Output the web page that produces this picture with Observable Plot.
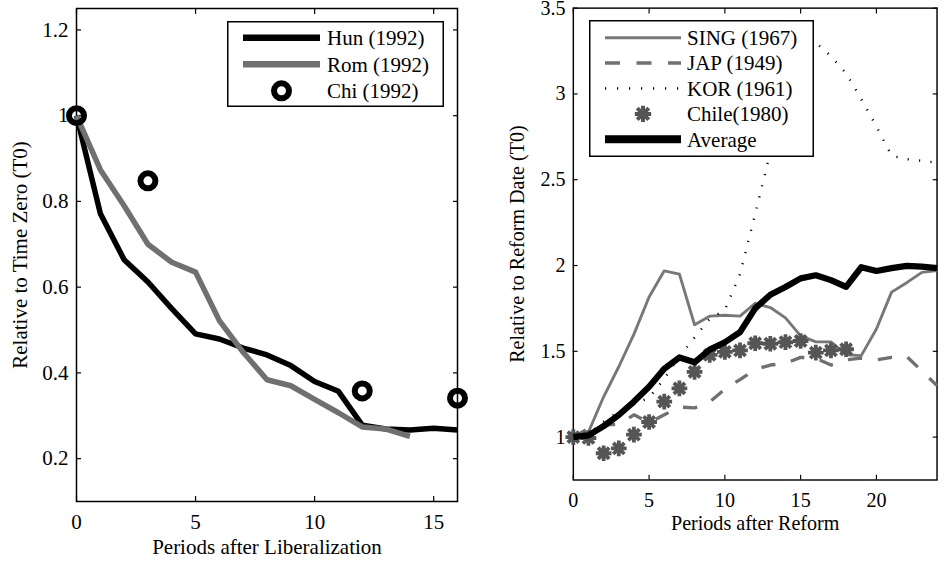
<!DOCTYPE html>
<html>
<head>
<meta charset="utf-8">
<script src="https://cdn.jsdelivr.net/npm/d3@7"></script>
<script src="https://cdn.jsdelivr.net/npm/@observablehq/plot@0.6"></script>
<style>
  html, body { margin: 0; padding: 0; background: #fff; }
  #wrap { position: relative; width: 949px; height: 561px; overflow: hidden; background: #fff; }
  .panel { position: absolute; top: 0; }
</style>
</head>
<body>
<div id="wrap">
  <div id="lib" class="panel" style="left:0px"></div>
  <div id="reform" class="panel" style="left:480px"></div>
</div>
<script>
const FONT = "'Liberation Serif', 'Times New Roman', serif";

// ---- Left panel: output relative to time zero after liberalization ----
const libPeriods = [0, 1, 2, 3, 4, 5, 6, 7, 8, 9, 10, 11, 12, 13, 14, 15, 16];
const hun = [1.0, 0.772, 0.664, 0.612, 0.55, 0.491, 0.479, 0.458, 0.442, 0.417, 0.38, 0.357, 0.278, 0.269, 0.267, 0.271, 0.267];
const romPeriods = [0, 1, 2, 3, 4, 5, 6, 7, 8, 9, 10, 11, 12, 13, 14];
const rom = [1.0, 0.874, 0.79, 0.70, 0.658, 0.635, 0.522, 0.448, 0.384, 0.370, 0.338, 0.307, 0.274, 0.269, 0.252];
const chiPeriods = [0, 3, 12, 16];
const chi = [1.0, 0.848, 0.358, 0.341];
const libXTicks = [0, 5, 10, 15];
const libYTicks = [0.2, 0.4, 0.6, 0.8, 1, 1.2];
const libNames = ["Hun (1992)", "Rom (1992)", "Chi (1992)"];

// ---- Right panel: relative to reform date ----
const reformPeriods = [0, 1, 2, 3, 4, 5, 6, 7, 8, 9, 10, 11, 12, 13, 14, 15, 16, 17, 18, 19, 20, 21, 22, 23, 24];
const sing = [1.0, 1.03, 1.235, 1.41, 1.60, 1.817, 1.969, 1.95, 1.655, 1.705, 1.71, 1.705, 1.78, 1.755, 1.695, 1.59, 1.555, 1.555, 1.48, 1.475, 1.63, 1.845, 1.90, 1.96, 1.97];
const jap = [1.0, 1.05, 1.07, 1.075, 1.13, 1.085, 1.13, 1.175, 1.17, 1.205, 1.28, 1.335, 1.395, 1.42, 1.43, 1.465, 1.46, 1.42, 1.45, 1.46, 1.45, 1.465, 1.47, 1.385, 1.30];
const kor = [1.0, 1.02, 1.09, 1.15, 1.19, 1.23, 1.34, 1.47, 1.58, 1.69, 1.74, 1.95, 2.30, 2.66, 2.95, 3.22, 3.30, 3.22, 3.12, 2.97, 2.81, 2.64, 2.62, 2.61, 2.60];
const average = [1.0, 1.01, 1.064, 1.129, 1.207, 1.293, 1.399, 1.464, 1.436, 1.510, 1.553, 1.612, 1.75, 1.83, 1.875, 1.925, 1.943, 1.915, 1.876, 1.99, 1.968, 1.985, 1.998, 1.993, 1.985];
const chilePeriods = [0, 1, 2, 3, 4, 5, 6, 7, 8, 9, 10, 11, 12, 13, 14, 15, 16, 17, 18];
const chile = [1.0, 0.995, 0.906, 0.934, 1.014, 1.088, 1.207, 1.284, 1.380, 1.479, 1.497, 1.505, 1.547, 1.544, 1.553, 1.560, 1.492, 1.505, 1.512];
const reformXTicks = [0, 5, 10, 15, 20];
const reformYTicks = [1, 1.5, 2, 2.5, 3, 3.5];
const reformNames = ["SING (1967)", "JAP (1949)", "KOR (1961)", "Chile(1980)", "Average"];

const rows = (xs, ys) => xs.map((x, i) => ({x, y: ys[i]}));
const fmt = d => String(d);
const blank = () => "";

// eight-armed asterisk marker
const asterisk8 = {
  draw(context, size) {
    const r = Math.sqrt(size / Math.PI);
    for (let k = 0; k < 4; ++k) {
      const a = k * Math.PI / 4;
      context.moveTo(r * Math.cos(a), r * Math.sin(a));
      context.lineTo(-r * Math.cos(a), -r * Math.sin(a));
    }
  }
};
const STAR_R = 8.2, STAR_W = 4;

// boxed axes with inward ticks on all four sides
function boxAxes(xTicks, yTicks) {
  return [
    Plot.frame({stroke: "#000", strokeWidth: 1.5}),
    Plot.axisX({ticks: xTicks, tickSize: -5, tickPadding: 18, tickFormat: fmt, label: null, strokeWidth: 1.2}),
    Plot.axisX({anchor: "top", ticks: xTicks, tickSize: -5, tickFormat: blank, label: null, strokeWidth: 1.2}),
    Plot.axisY({ticks: yTicks, tickSize: -5, tickPadding: 13, tickFormat: fmt, label: null, strokeWidth: 1.2}),
    Plot.axisY({anchor: "right", ticks: yTicks, tickSize: -5, tickFormat: blank, label: null, strokeWidth: 1.2})
  ];
}

// axis titles below and to the left of the frame
function titles(xTitle, yTitle, yDx) {
  return [
    Plot.text([xTitle], {text: d => d, frameAnchor: "bottom", lineAnchor: "middle", textAnchor: "middle", dy: 46, fontSize: 21}),
    Plot.text([yTitle], {text: d => d, frameAnchor: "left", lineAnchor: "middle", textAnchor: "middle", dx: yDx, rotate: -90, fontSize: 21})
  ];
}

const style = {fontFamily: FONT, fontSize: "21px", background: "transparent", color: "#000", overflow: "visible"};

const libPlot = Plot.plot({
  width: 480, height: 561,
  marginLeft: 76, marginRight: 23, marginTop: 8, marginBottom: 60,
  style,
  x: {domain: [0, 16]},
  y: {domain: [0.1, 1.25]},
  marks: [
    ...boxAxes(libXTicks, libYTicks),
    ...titles("Periods after Liberalization", "Relative to Time Zero (T0)", -56.5),
    Plot.line(rows(libPeriods, hun), {x: "x", y: "y", stroke: "#000", strokeWidth: 5.5, strokeLinecap: "butt"}),
    Plot.line(rows(romPeriods, rom), {x: "x", y: "y", stroke: "#707070", strokeWidth: 5.5, strokeLinecap: "butt"}),
    Plot.dot(rows(chiPeriods, chi), {x: "x", y: "y", r: 7.5, stroke: "#000", strokeWidth: 6, fill: "none"})
  ]
});
document.getElementById("lib").append(libPlot);

const reformPlot = Plot.plot({
  width: 490, height: 561,
  marginLeft: 97, marginRight: 13, marginTop: 8, marginBottom: 60,
  style,
  x: {domain: [0, 24]},
  y: {domain: [0.75, 3.5]},
  marks: [
    ...boxAxes(reformXTicks, reformYTicks),
    ...titles("Periods after Reform", "Relative to Reform Date (T0)", -58),
    Plot.line(rows(reformPeriods, sing), {x: "x", y: "y", stroke: "#777", strokeWidth: 3, strokeLinecap: "butt"}),
    Plot.line(rows(reformPeriods, jap), {x: "x", y: "y", stroke: "#707070", strokeWidth: 3.5, strokeDasharray: "15,16.5", strokeLinecap: "butt"}),
    Plot.line(rows(reformPeriods, kor), {x: "x", y: "y", stroke: "#000", strokeWidth: 2.5, strokeDasharray: "1.2,10.8", strokeLinecap: "butt"}),
    Plot.dot(rows(chilePeriods, chile), {x: "x", y: "y", r: STAR_R, symbol: asterisk8, stroke: "#555", strokeWidth: STAR_W, fill: "none"}),
    Plot.line(rows(reformPeriods, average), {x: "x", y: "y", stroke: "#000", strokeWidth: 6.5, strokeLinecap: "butt"})
  ]
});
document.getElementById("reform").append(reformPlot);

// ---- legends ----
function legend(names, styles, box) {
  const svg = d3.select("#wrap").append("svg")
    .attr("width", box.width).attr("height", box.height)
    .style("position", "absolute").style("left", box.left + "px").style("top", box.top + "px")
    .style("font-family", FONT).style("font-size", "21px");
  svg.append("rect")
    .attr("x", 0.75).attr("y", 0.75)
    .attr("width", box.width - 1.5).attr("height", box.height - 1.5)
    .attr("fill", "#fff").attr("stroke", "#000").attr("stroke-width", 1.5);
  names.forEach((name, i) => {
    const s = styles[i];
    const cy = box.rowTop + i * box.rowStep;
    const cx = (box.x0 + box.x1) / 2;
    if (s.marker === "circle") {
      svg.append("circle").attr("cx", cx).attr("cy", cy).attr("r", 7.5)
        .attr("fill", "none").attr("stroke", s.stroke).attr("stroke-width", 6);
    } else if (s.marker === "asterisk") {
      const p = d3.path();
      asterisk8.draw(p, Math.PI * STAR_R * STAR_R);
      svg.append("path").attr("transform", `translate(${cx},${cy})`).attr("d", p.toString())
        .attr("fill", "none").attr("stroke", s.stroke).attr("stroke-width", STAR_W);
    } else {
      svg.append("line").attr("x1", box.x0).attr("x2", box.x1).attr("y1", cy).attr("y2", cy)
        .attr("stroke", s.stroke).attr("stroke-width", s.width)
        .attr("stroke-dasharray", s.dash || null);
    }
    svg.append("text").attr("x", box.textX).attr("y", cy).attr("dy", "0.35em").text(name);
  });
}

legend(libNames, [
  {stroke: "#000", width: 6.5},
  {stroke: "#707070", width: 6.5},
  {stroke: "#000", marker: "circle"}
], {left: 227, top: 21, width: 217, height: 86, rowTop: 16.8, rowStep: 26.5, x0: 16, x1: 93, textX: 100});

legend(reformNames, [
  {stroke: "#777", width: 3},
  {stroke: "#707070", width: 3.5, dash: "15,16.5"},
  {stroke: "#000", width: 2.5, dash: "1.2,10.8"},
  {stroke: "#555", marker: "asterisk"},
  {stroke: "#000", width: 8}
], {left: 589, top: 20, width: 225, height: 137, rowTop: 17.7, rowStep: 25.4, x0: 16, x1: 92, textX: 98});
</script>
</body>
</html>
